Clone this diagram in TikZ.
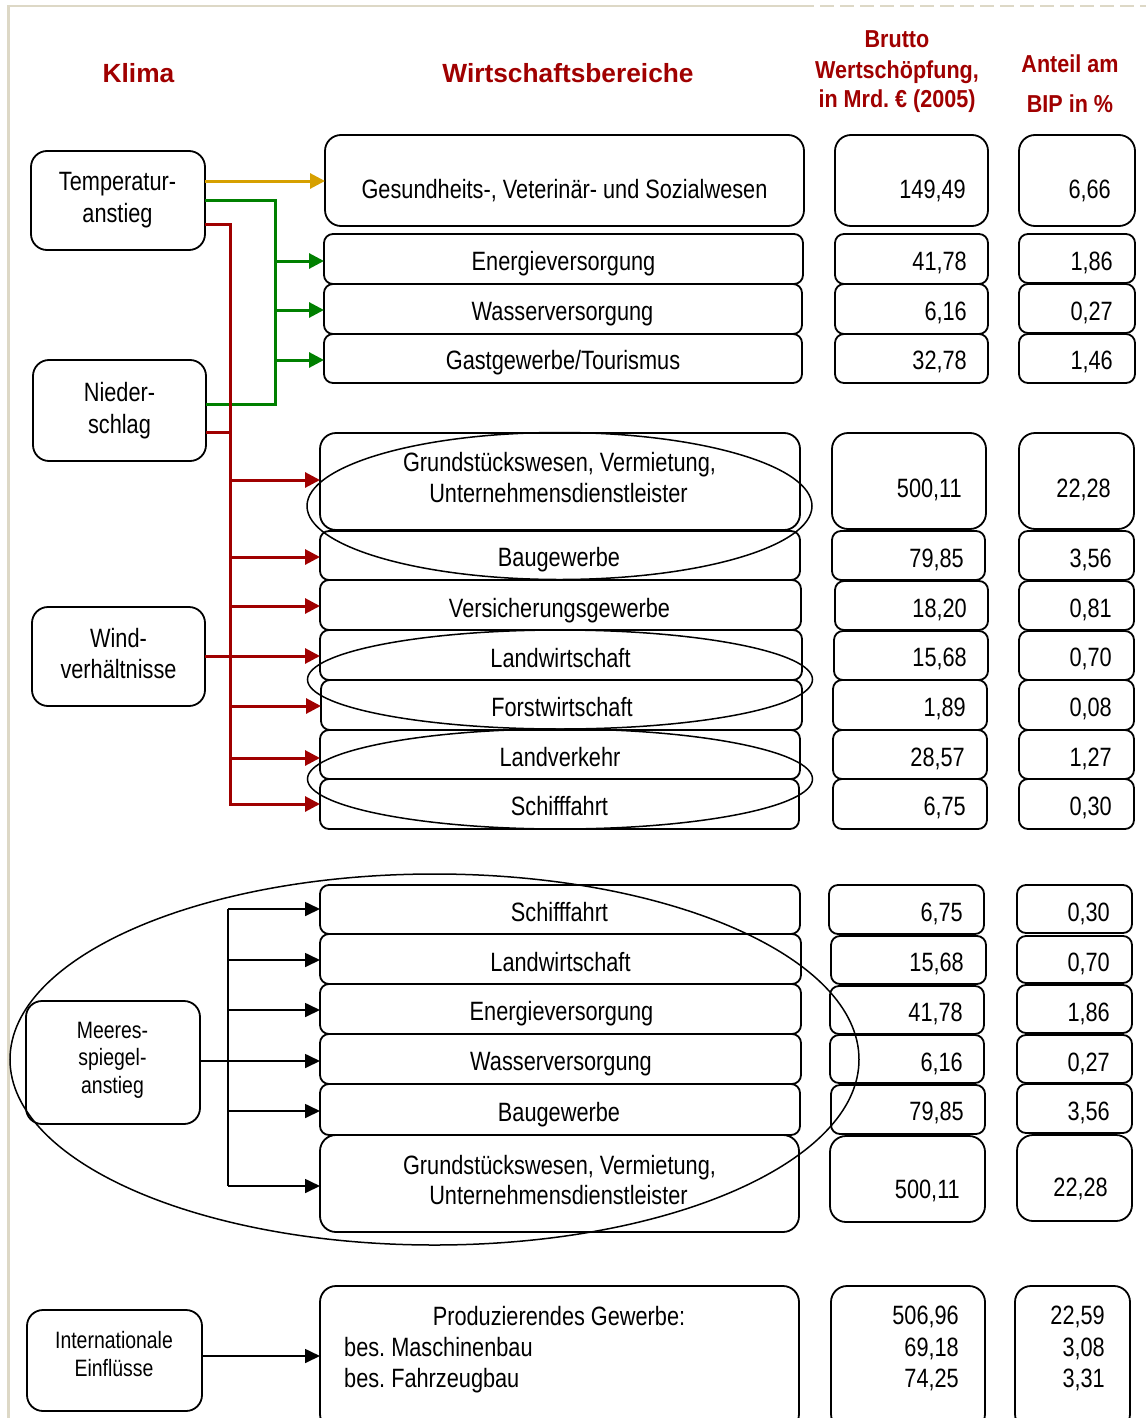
\documentclass[tikz,border=0pt]{standalone}
\usepackage{fontspec}
\setmainfont{Liberation Sans}[FakeStretch=0.82]
\newfontfamily\wideheadfont{Liberation Sans}
\newfontfamily\narrowheadfont{Liberation Sans}[FakeStretch=0.88]
\usetikzlibrary{arrows.meta,shapes.geometric}
\frenchspacing

\definecolor{headred}{RGB}{160,0,0}
\definecolor{linkred}{RGB}{160,0,0}
\definecolor{linkgreen}{RGB}{0,128,0}
\definecolor{linkgold}{RGB}{214,160,0}
\definecolor{framebeige}{RGB}{221,216,198}

% box from (x1,y1) to (x2,y2): name, x1, y1, x2, y2, style
\newcommand{\boxat}[6]{%
  \node[#6, minimum width={(#4)-(#2)}, minimum height={(#5)-(#3)}]
    (#1) at ({((#2)+(#4))/2},{((#3)+(#5))/2}) {};}

\begin{document}
\begin{tikzpicture}[x=1pt,y=-1pt,
  box/.style={draw=black, line width=1.8pt, rounded corners=9pt, inner sep=0pt, outer sep=0pt},
  bigbox/.style={box, rounded corners=16pt},
  ring/.style={draw=black, line width=1.5pt, ellipse, inner sep=0pt, outer sep=0pt},
  txt/.style={inner sep=0pt, anchor=base, font=\fontsize{26.5}{31}\selectfont},
  numr/.style={txt, anchor=base east},
  txtl/.style={txt, anchor=base west},
  smalltxt/.style={inner sep=0pt, anchor=base, font=\fontsize{23.7}{28}\selectfont},
  head/.style={inner sep=0pt, anchor=base, text=headred, font=\wideheadfont\bfseries\fontsize{26.3}{31}\selectfont},
  subhead/.style={inner sep=0pt, anchor=base, text=headred, font=\narrowheadfont\bfseries\fontsize{24.5}{30}\selectfont},
  redlink/.style={draw=linkred, line width=3pt},
  greenlink/.style={draw=linkgreen, line width=3pt},
  goldlink/.style={draw=linkgold, line width=3pt},
  blacklink/.style={draw=black, line width=1.7pt},
  tipc/.style={-{Triangle[length=15pt,width=15pt]}},
  tipb/.style={-{Triangle[length=15pt,width=14pt]}}
]
\clip (0,0) rectangle (1146,1418);
\fill[white] (0,0) rectangle (1146,1418);

% page frame
\draw[framebeige, line width=2.5pt] (8.5,1420) -- (8.5,6) -- (800,6);
\draw[framebeige, line width=2.5pt, dash pattern=on 14pt off 6pt] (800,6) -- (1146,6);

% column headings
\node[head] (hklima) at (138.5,83) {Klima};
\node[head] (hwirt) at (568,83) {Wirtschaftsbereiche};
\node[subhead] (hb1) at (897,48) {Brutto};
\node[subhead] (hb2) at (897,79) {Wertschöpfung,};
\node[subhead] (hb3) at (897,108) {in Mrd. € (2005)};
\node[subhead] (ha1) at (1070,73) {Anteil am};
\node[subhead] (ha2) at (1070,113) {BIP in \%};

% climate factors
\boxat{temp}{31}{151}{205}{250}{bigbox}
\node[txt] (temp-l1) at (117.5,190) {Temperatur-};
\node[txt] (temp-l2) at (117.5,222) {anstieg};
\boxat{nied}{33}{360}{206}{461}{bigbox}
\node[txt] (nied-l1) at (119.5,401) {Nieder-};
\node[txt] (nied-l2) at (119.5,433) {schlag};
\boxat{wind}{32}{607}{205}{706}{bigbox}
\node[txt] (wind-l1) at (118.5,647) {Wind-};
\node[txt] (wind-l2) at (118.5,678) {verhältnisse};
\boxat{meer}{26}{1001}{200}{1124}{bigbox}
\node[smalltxt] (meer-l1) at (112.5,1038) {Meeres-};
\node[smalltxt] (meer-l2) at (112.5,1065.5) {spiegel-};
\node[smalltxt] (meer-l3) at (112.5,1093) {anstieg};
\boxat{intl}{27}{1310}{202}{1411}{bigbox}
\node[smalltxt] (intl-l1) at (114,1348) {Internationale};
\node[smalltxt] (intl-l2) at (114,1376) {Einflüsse};

% ---- block 1: temperature / precipitation ----
\boxat{g1}{325}{135}{804}{226}{bigbox}
\node[txt] (g1-t) at (564.5,198) {Gesundheits-, Veterinär- und Sozialwesen};
\boxat{e1}{324}{234}{803}{284}{box}
\node[txt] (e1-t) at (563.5,270) {Energieversorgung};
\boxat{w1}{324}{284}{802}{334}{box}
\node[txt] (w1-t) at (562.5,320) {Wasserversorgung};
\boxat{t1}{324}{334}{802}{383}{box}
\node[txt] (t1-t) at (563,369) {Gastgewerbe/Tourismus};

\boxat{b11}{835}{135}{988}{226}{bigbox}
\node[numr] (b11-t) at (966,198) {149,49};
\boxat{b12}{835}{234}{988}{284}{box}
\node[numr] (b12-t) at (967,270) {41,78};
\boxat{b13}{835}{284}{988}{334}{box}
\node[numr] (b13-t) at (967,320) {6,16};
\boxat{b14}{835}{334}{988}{383}{box}
\node[numr] (b14-t) at (967,369) {32,78};

\boxat{a11}{1019}{135}{1135}{226}{bigbox}
\node[numr] (a11-t) at (1111,198) {6,66};
\boxat{a12}{1019}{234}{1135}{283}{box}
\node[numr] (a12-t) at (1113,270) {1,86};
\boxat{a13}{1019}{284}{1135}{333}{box}
\node[numr] (a13-t) at (1113,320) {0,27};
\boxat{a14}{1019}{334}{1135}{383}{box}
\node[numr] (a14-t) at (1113,369) {1,46};

% ---- block 2: all three climate factors ----
\boxat{g2}{320}{433}{800}{530}{bigbox}
\node[txt] (g2-l1) at (559.5,471) {Grundstückswesen, Vermietung,};
\node[txt] (g2-l2) at (558.5,502) {Unternehmensdienstleister};
\boxat{bau2}{320}{531}{800}{580}{box}
\node[txt] (bau2-t) at (559,566) {Baugewerbe};
\boxat{ver2}{320}{580}{801}{630}{box}
\node[txt] (ver2-t) at (559.5,617) {Versicherungsgewerbe};
\boxat{lw2}{320}{630}{802}{680}{box}
\node[txt] (lw2-t) at (560.5,667) {Landwirtschaft};
\boxat{fw2}{321}{680}{802}{730}{box}
\node[txt] (fw2-t) at (562,716) {Forstwirtschaft};
\boxat{lv2}{320}{730}{800}{779}{box}
\node[txt] (lv2-t) at (560,766) {Landverkehr};
\boxat{sf2}{320}{779}{799}{829}{box}
\node[txt] (sf2-t) at (559.5,815) {Schifffahrt};

\boxat{b21}{832}{433}{986}{529}{bigbox}
\node[numr] (b21-t) at (962,497) {500,11};
\boxat{b22}{832}{531}{985}{580}{box}
\node[numr] (b22-t) at (964,567) {79,85};
\boxat{b23}{835}{581}{988}{630}{box}
\node[numr] (b23-t) at (967,617) {18,20};
\boxat{b24}{834}{631}{988}{680}{box}
\node[numr] (b24-t) at (967,666) {15,68};
\boxat{b25}{833}{680}{987}{730}{box}
\node[numr] (b25-t) at (966,716) {1,89};
\boxat{b26}{833}{730}{987}{779}{box}
\node[numr] (b26-t) at (965,766) {28,57};
\boxat{b27}{833}{779}{987}{829}{box}
\node[numr] (b27-t) at (966,815) {6,75};

\boxat{a21}{1019}{433}{1134}{529}{bigbox}
\node[numr] (a21-t) at (1111,497) {22,28};
\boxat{a22}{1019}{531}{1134}{580}{box}
\node[numr] (a22-t) at (1112,567) {3,56};
\boxat{a23}{1019}{581}{1134}{630}{box}
\node[numr] (a23-t) at (1112,617) {0,81};
\boxat{a24}{1019}{631}{1134}{680}{box}
\node[numr] (a24-t) at (1112,666) {0,70};
\boxat{a25}{1019}{680}{1134}{730}{box}
\node[numr] (a25-t) at (1112,716) {0,08};
\boxat{a26}{1019}{730}{1134}{779}{box}
\node[numr] (a26-t) at (1112,766) {1,27};
\boxat{a27}{1019}{779}{1134}{829}{box}
\node[numr] (a27-t) at (1112,815) {0,30};

\node[ring, minimum width=505, minimum height=147] (grp-a) at (559.5,506) {};
\node[ring, minimum width=505, minimum height=99] (grp-b) at (560,679.5) {};
\node[ring, minimum width=505, minimum height=100] (grp-c) at (560,779) {};

% ---- block 3: sea level rise ----
\boxat{sf3}{320}{885}{800}{934}{box}
\node[txt] (sf3-t) at (559.5,921.5) {Schifffahrt};
\boxat{lw3}{320}{934}{801}{984}{box}
\node[txt] (lw3-t) at (560.5,971.5) {Landwirtschaft};
\boxat{en3}{320}{984}{801}{1034}{box}
\node[txt] (en3-t) at (561.5,1020.5) {Energieversorgung};
\boxat{ws3}{320}{1034}{801}{1084}{box}
\node[txt] (ws3-t) at (561,1070.5) {Wasserversorgung};
\boxat{bg3}{320}{1084}{800}{1135}{box}
\node[txt] (bg3-t) at (559,1121) {Baugewerbe};
\boxat{gr3}{320}{1135}{799}{1232}{bigbox}
\node[txt] (gr3-l1) at (559.5,1174) {Grundstückswesen, Vermietung,};
\node[txt] (gr3-l2) at (558.5,1204) {Unternehmensdienstleister};

\boxat{b31}{829}{885}{984}{934}{box}
\node[numr] (b31-t) at (963,921.5) {6,75};
\boxat{b32}{831}{936}{986}{984}{box}
\node[numr] (b32-t) at (964,971.5) {15,68};
\boxat{b33}{830}{986}{984}{1034}{box}
\node[numr] (b33-t) at (963,1021) {41,78};
\boxat{b34}{830}{1035}{984}{1083}{box}
\node[numr] (b34-t) at (963,1071) {6,16};
\boxat{b35}{831}{1085}{985}{1134}{box}
\node[numr] (b35-t) at (964,1120.5) {79,85};
\boxat{b36}{830}{1136}{985}{1222}{bigbox}
\node[numr] (b36-t) at (960,1198) {500,11};

\boxat{a31}{1017}{885}{1132}{933}{box}
\node[numr] (a31-t) at (1110,921.5) {0,30};
\boxat{a32}{1017}{936}{1132}{983}{box}
\node[numr] (a32-t) at (1110,971.5) {0,70};
\boxat{a33}{1017}{985}{1132}{1033}{box}
\node[numr] (a33-t) at (1110,1021) {1,86};
\boxat{a34}{1017}{1035}{1132}{1083}{box}
\node[numr] (a34-t) at (1110,1071) {0,27};
\boxat{a35}{1017}{1084}{1132}{1133}{box}
\node[numr] (a35-t) at (1110,1120.5) {3,56};
\boxat{a36}{1017}{1135}{1132}{1221}{bigbox}
\node[numr] (a36-t) at (1108,1196) {22,28};

\node[ring, minimum width=849, minimum height=371] (grp-d) at (434.5,1059.5) {};

% ---- block 4: international influences ----
\boxat{pg4}{320}{1286}{799}{1430}{bigbox}
\node[txt] (pg4-l1) at (559,1325) {Produzierendes Gewerbe:};
\node[txtl] (pg4-l2) at (344,1356) {bes. Maschinenbau};
\node[txtl] (pg4-l3) at (344,1387) {bes. Fahrzeugbau};
\boxat{b41}{831}{1286}{985}{1430}{bigbox}
\node[numr] (b41-l1) at (959,1324) {506,96};
\node[numr] (b41-l2) at (959,1356) {69,18};
\node[numr] (b41-l3) at (959,1387) {74,25};
\boxat{a41}{1015}{1286}{1130}{1430}{bigbox}
\node[numr] (a41-l1) at (1105,1324) {22,59};
\node[numr] (a41-l2) at (1105,1356) {3,08};
\node[numr] (a41-l3) at (1105,1387) {3,31};

% ---- connectors ----
% temperature -> health (gold)
\draw[goldlink, tipc] (temp.east |- 0,181) -- (g1.west |- 0,181);

% temperature + precipitation -> supply and tourism (green)
\coordinate (gtop) at (275,200);
\coordinate (gbot) at (275,404);
\draw[greenlink] (temp.east |- gtop) -- (gtop) -- (gbot) -- (nied.east |- gbot);
\foreach \target/\yy in {e1/261, w1/310, t1/360}
  \draw[greenlink, tipc] (275,\yy) -- (\target.west |- 0,\yy);

% all climate factors -> block 2 (red)
\coordinate (rtop) at (230,224);
\coordinate (rbot) at (230,804);
\draw[redlink, tipc] (temp.east |- rtop) -- (rtop) -- (rbot) -- (sf2.west |- rbot);
\draw[redlink] (nied.east |- 0,432) -- (230,432);
\draw[redlink, tipc] (wind.east |- 0,656) -- (lw2.west |- 0,656);
\foreach \target/\yy in {g2/480, bau2/557, ver2/606, fw2/706, lv2/758}
  \draw[redlink, tipc] (230,\yy) -- (\target.west |- 0,\yy);

% sea level rise -> block 3 (black)
\coordinate (mtop) at (228,909);
\coordinate (mbot) at (228,1186);
\draw[blacklink] (mtop) -- (mbot);
\draw[blacklink, tipb] (meer.east |- 0,1061) -- (ws3.west |- 0,1061);
\foreach \target/\yy in {sf3/909, lw3/960, en3/1010, bg3/1111, gr3/1186}
  \draw[blacklink, tipb] (228,\yy) -- (\target.west |- 0,\yy);

% international influences -> manufacturing
\draw[blacklink, tipb] (intl.east |- 0,1356) -- (pg4.west |- 0,1356);
\end{tikzpicture}
\end{document}
